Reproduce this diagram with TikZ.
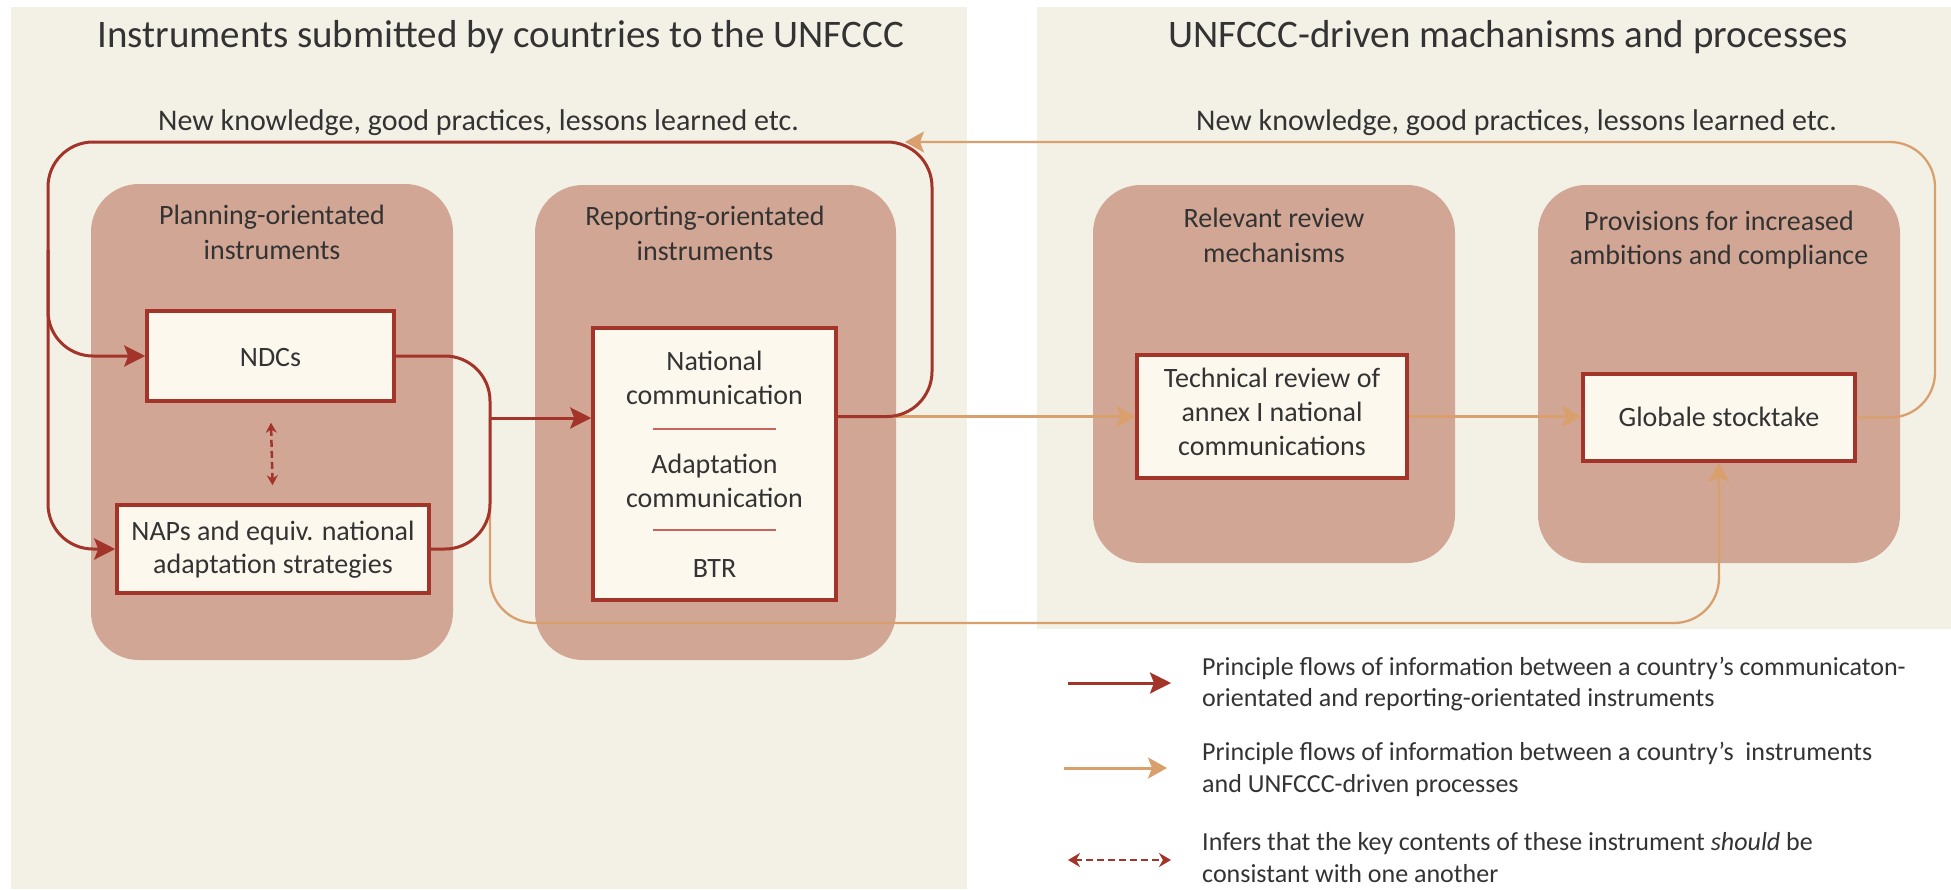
\documentclass[tikz,border=0pt]{standalone}
\usepackage{fontspec}
\setmainfont{Carlito}
\usetikzlibrary{arrows.meta}
\definecolor{bgbeige}{HTML}{F3F1E6}
\definecolor{brownbox}{HTML}{D2A694}
\definecolor{darkred}{HTML}{A2342A}
\definecolor{tanc}{HTML}{D9A06E}
\definecolor{cream}{HTML}{FDF8EE}
\definecolor{txt}{HTML}{333333}
\definecolor{sepline}{HTML}{C8645A}
\begin{document}
\begin{tikzpicture}[x=1pt,y=-1pt,
  group/.style={fill=brownbox, draw=none, rounded corners=48pt, inner sep=0pt, minimum width=362pt},
  wbox/.style={draw=darkred, line width=3.5pt, fill=cream, inner sep=0pt},
  titletext/.style={text=txt, inner sep=0pt, font=\fontsize{39}{46}\selectfont},
  subtext/.style={text=txt, inner sep=0pt, font=\fontsize{30}{36}\selectfont},
  headtext/.style={text=txt, inner sep=0pt, anchor=base, font=\fontsize{28}{34}\selectfont},
  boxtext/.style={text=txt, inner sep=0pt, anchor=base, font=\fontsize{28}{34}\selectfont},
  legtext/.style={text=txt, inner sep=0pt, anchor=base west, font=\fontsize{26}{32}\selectfont},
  redflow/.style={draw=darkred, line width=3pt, rounded corners=45pt},
  tanflow/.style={draw=tanc, line width=2.3pt, rounded corners=45pt},
  redtip/.style={-{Stealth[length=21pt,width=21pt,inset=4pt]}},
  tantip/.style={-{Stealth[length=19pt,width=21pt,inset=4pt]}},
  dashflow/.style={draw=darkred, line width=2.5pt, dash pattern=on 7pt off 4pt},
  septext/.style={draw=sepline, line width=2pt}
]
\useasboundingbox (0,0) rectangle (1951,889);
\fill[white] (0,0) rectangle (1951,889);
% panels
\fill[bgbeige] (11,7) rectangle (967,889);
\fill[bgbeige] (1037,7) rectangle (1951,629);

% titles
\node[titletext, anchor=base west] (titleL) at (97,47) {Instruments submitted by countries to the UNFCCC};
\node[titletext, anchor=base west] (titleR) at (1168,47) {UNFCCC-driven machanisms and processes};
\node[subtext, anchor=base west] (subL) at (158,130) {New knowledge, good practices, lessons learned etc.};
\node[subtext, anchor=base east] (subR) at (1837,130) {New knowledge, good practices, lessons learned etc.};

% group boxes
\node[group, minimum height=476pt] (plan) at (272,422) {};
\node[group, minimum width=361pt, minimum height=475pt] (repg) at (715.5,422.5) {};
\node[group, minimum height=378pt] (relg) at (1274,374) {};
\node[group, minimum height=378pt] (provg) at (1719,374) {};

\node[headtext] (planh1) at (272,224) {Planning-orientated};
\node[headtext] (planh2) at (272,259) {instruments};
\node[headtext] (reph1) at (705,225) {Reporting-orientated};
\node[headtext] (reph2) at (705,260) {instruments};
\node[headtext] (relh1) at (1274,227) {Relevant review};
\node[headtext] (relh2) at (1274,262) {mechanisms};
\node[headtext] (provh1) at (1719,230) {Provisions for increased};
\node[headtext] (provh2) at (1719,264) {ambitions and compliance};

% white boxes
\node[wbox, minimum width=247pt, minimum height=90pt] (ndcs) at (270.5,356) {};
\node[wbox, minimum width=312pt, minimum height=88pt] (naps) at (273,549) {};
\node[wbox, minimum width=243pt, minimum height=272pt] (rep) at (714.5,464) {};
\node[wbox, minimum width=270pt, minimum height=123pt] (tech) at (1272,416.5) {};
\node[wbox, minimum width=272pt, minimum height=87pt] (gst) at (1719,417.5) {};

\node[boxtext] (ndcst) at (270.5,366) {NDCs};
\node[boxtext] (napst1) at (273,540) {NAPs and equiv. national};
\node[boxtext] (napst2) at (273,573) {adaptation strategies};
\node[boxtext] (rept1) at (714.5,370) {National};
\node[boxtext] (rept2) at (714.5,404) {communication};
\node[boxtext] (rept3) at (714.5,473) {Adaptation};
\node[boxtext] (rept4) at (714.5,507) {communication};
\node[boxtext] (rept5) at (714.5,577) {BTR};
\coordinate (sepA1) at (653,429); \coordinate (sepA2) at (776,429);
\coordinate (sepB1) at (653,530); \coordinate (sepB2) at (776,530);
\draw[septext] (sepA1) -- (sepA2);
\draw[septext] (sepB1) -- (sepB2);
\node[boxtext] (techt1) at (1272,387) {Technical review of};
\node[boxtext] (techt2) at (1272,421) {annex I national};
\node[boxtext] (techt3) at (1272,455) {communications};
\node[boxtext] (gstt) at (1719,426) {Globale stocktake};

% connector points
\coordinate (repout) at (rep.east |- tech.west);
\coordinate (junc) at (490,418);
\coordinate (trc) at (1935,417.5);
\coordinate (trt) at (1935,142);
\coordinate (tarrow) at (905,142);
\coordinate (bl) at (490,623);
\coordinate (br) at (1719,623);
\coordinate (rr1) at (932,416.5);
\coordinate (rr2) at (932,142);
\coordinate (rl1) at (48,142);
\coordinate (rl2) at (48,549);
\coordinate (rb1) at (48,250);
\coordinate (rb2) at (48,356);
\coordinate (bk1) at (490,356);
\coordinate (bk2) at (490,549);

% tan flows
\draw[tanflow, tantip] (junc) -- (bl) -- (br) -- (gst.south);
\draw[tanflow, tantip] (repout) -- (tech.west);
\draw[tanflow, tantip] (tech.east) -- (tech.east -| gst.west);
\draw[tanflow, tantip] (gst.east) -- (trc) -- (trt) -- (tarrow);

% red flows
\draw[redflow, redtip] (repout) -- (rr1) -- (rr2) -- (rl1) -- (rl2) -- (naps.west);
\draw[redflow, redtip] (rb1) -- (rb2) -- (ndcs.west);
\draw[redflow] (ndcs.east) -- (bk1) -- (bk2) -- (naps.east);
\draw[redflow, redtip] (junc) -- (junc -| rep.west);

% consistency arrow
\draw[dashflow, {Stealth[length=10pt,width=11pt]}-{Stealth[length=10pt,width=11pt]}, shorten <=20pt, shorten >=18pt] (ndcs.south) -- (naps.north);

% legend
\coordinate (lg1a) at (1068,683); \coordinate (lg1b) at (1171,683);
\coordinate (lg2a) at (1064,768); \coordinate (lg2b) at (1167,768);
\coordinate (lg3a) at (1068,860); \coordinate (lg3b) at (1171,860);
\draw[draw=darkred, line width=3pt, redtip] (lg1a) -- (lg1b);
\draw[draw=tanc, line width=3pt, tantip] (lg2a) -- (lg2b);
\draw[dashflow, {Stealth[length=12pt,width=14pt]}-{Stealth[length=12pt,width=14pt]}] (lg3a) -- (lg3b);

\node[legtext] (lt1) at (1202,675) {Principle flows of information between a country’s communicaton-};
\node[legtext] (lt2) at (1202,706) {orientated and reporting-orientated instruments};
\node[legtext] (lt3) at (1202,760) {Principle flows of information between a country’s \ instruments};
\node[legtext] (lt4) at (1202,792) {and UNFCCC-driven processes};
\node[legtext] (lt5) at (1202,850) {Infers that the key contents of these instrument \textit{should} be};
\node[legtext] (lt6) at (1202,882) {consistant with one another};
\end{tikzpicture}
\end{document}
